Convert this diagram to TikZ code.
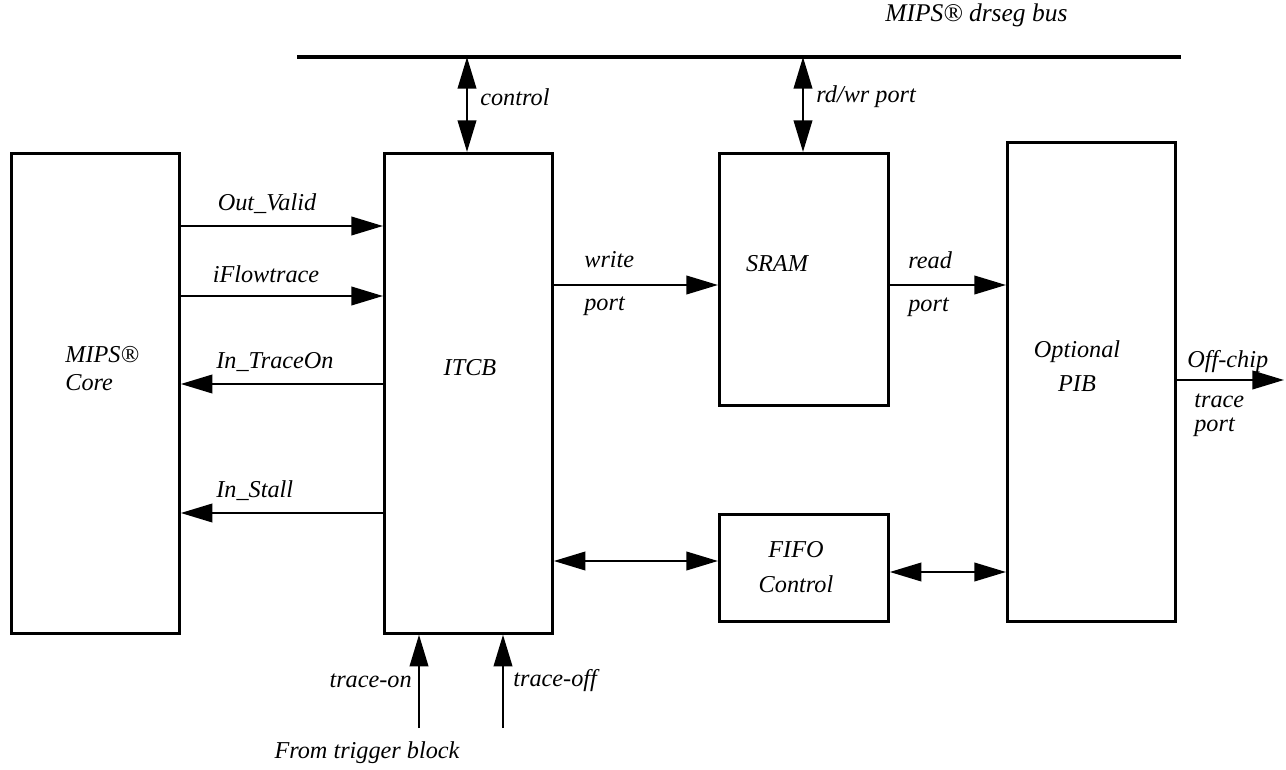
\documentclass[tikz,border=0pt]{standalone}
\usepackage{fontspec}
\setmainfont{Liberation Serif}
\usetikzlibrary{arrows.meta}
\tikzset{
  box/.style={draw, line width=1.6pt, anchor=north west, inner sep=0pt},
  tip/.tip={Triangle[length=18pt,width=10.5pt]},
  arr/.style={line width=1.4pt, -tip},
  darr/.style={line width=1.4pt, tip-tip},
  lbl/.style={font=\fontsize{13.8}{16}\selectfont\itshape, inner sep=0pt},
}
\begin{document}
\begin{tikzpicture}[x=0.02cm,y=-0.02cm]
\useasboundingbox (0,0) rectangle (1286,770);
% boxes
\node[box, minimum width=3.36cm, minimum height=9.6cm] (core) at (10,152) {};
\node[box, minimum width=3.36cm, minimum height=9.6cm] (itcb) at (383,152) {};
\node[box, minimum width=3.38cm, minimum height=5.04cm] (sram) at (718,152) {};
\node[box, minimum width=3.38cm, minimum height=2.14cm] (fifo) at (718,513) {};
\node[box, minimum width=3.36cm, minimum height=9.58cm] (pib) at (1006,141) {};
% bus
\coordinate (busL) at (297,57);
\coordinate (busR) at (1181,57);
\draw[line width=1.8pt] (busL) -- (busR);
\node[lbl, font=\fontsize{14.5}{16}\selectfont\itshape, anchor=west] (buslbl) at (885,15) {MIPS® drseg bus};
% box texts
\node[lbl, align=left, anchor=west] (coretxt) at (65,369) {MIPS®\\Core};
\node[lbl] (itcbtxt) at (470,368) {ITCB};
\node[lbl] (sramtxt) at (777,264) {SRAM};
\node[lbl, font=\fontsize{13.8}{20}\selectfont\itshape, align=center] (fifotxt) at (796,567) {FIFO\\Control};
\node[lbl, font=\fontsize{13.8}{19}\selectfont\itshape, align=center] (pibtxt) at (1077,366) {Optional\\PIB};
% bus arrows
\draw[darr] (busL -| 467,0) -- (itcb.north -| 467,0);
\node[lbl, anchor=west] (ctrllbl) at (480,97) {control};
\draw[darr] (busL -| 803,0) -- (sram.north -| 803,0);
\node[lbl, anchor=west] (rdwrlbl) at (816,97) {rd/wr port};
% core <-> itcb
\draw[arr] (core.east |- 0,226) -- (itcb.west |- 0,226);
\node[lbl] (ovlbl) at (267,204) {Out\_Valid};
\draw[arr] (core.east |- 0,296) -- (itcb.west |- 0,296);
\node[lbl] (iflbl) at (266,274) {iFlowtrace};
\draw[arr] (itcb.west |- 0,384) -- (core.east |- 0,384);
\node[lbl, anchor=west] (tolbl) at (216,362) {In\_TraceOn};
\draw[arr] (itcb.west |- 0,513) -- (core.east |- 0,513);
\node[lbl, anchor=west] (stlbl) at (216,491) {In\_Stall};
% write / read
\draw[arr] (itcb.east |- 0,285) -- (sram.west |- 0,285);
\node[lbl, font=\fontsize{13.8}{24.5}\selectfont\itshape, align=left, anchor=west] (wlbl) at (584,284) {write\\port};
\draw[arr] (sram.east |- 0,285) -- (pib.west |- 0,285);
\node[lbl, font=\fontsize{13.8}{24.5}\selectfont\itshape, align=left, anchor=west] (rlbl) at (908,284) {read\\port};
% fifo
\draw[darr] (itcb.east |- 0,561) -- (fifo.west |- 0,561);
\draw[darr] (fifo.east |- 0,572) -- (pib.west |- 0,572);
% off chip
\coordinate (offend) at (1284,380);
\draw[arr] (pib.east |- offend) -- (offend);
\node[lbl, anchor=west] (offlbl) at (1187,362) {Off-chip};
\node[lbl, font=\fontsize{13.8}{13.5}\selectfont\itshape, align=left, anchor=west] (tplbl) at (1194,415) {trace\\port};
% trigger
\coordinate (ton) at (419,728);
\coordinate (toff) at (503,728);
\draw[arr] (ton) -- (itcb.south -| ton);
\draw[arr] (toff) -- (itcb.south -| toff);
\node[lbl, anchor=east] (tonlbl) at (412,681) {trace-on};
\node[lbl, anchor=west] (tofflbl) at (513,681) {trace-off};
\node[lbl] (trig) at (367,753) {From trigger block};
\end{tikzpicture}
\end{document}
